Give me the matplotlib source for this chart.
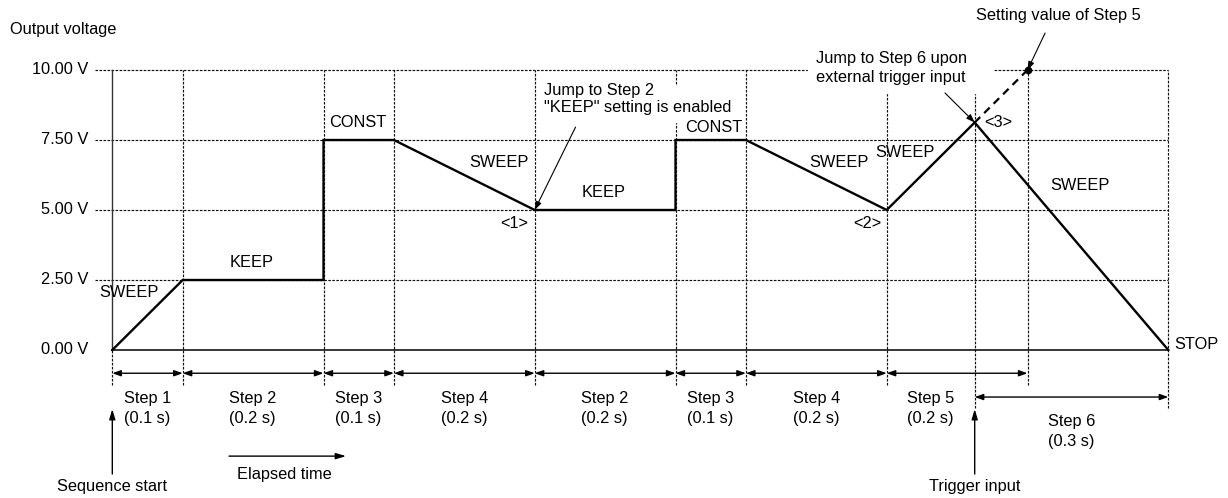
import numpy as np
import matplotlib
matplotlib.use("Agg")
import matplotlib.pyplot as plt
from matplotlib.patches import Rectangle

plt.rcParams['font.family'] = ['Liberation Sans', 'DejaVu Sans']
FS = 11.8

# output voltage profile (time in s, voltage in V)
prof_t = [0, 0.1, 0.3, 0.3, 0.4, 0.6, 0.8, 0.8, 0.9, 1.1, 1.225, 1.5]
prof_v = [0, 2.5, 2.5, 7.5, 7.5, 5.0, 5.0, 7.5, 7.5, 5.0, 8.125, 0]
# step 5 setting that was not reached
skip_t = [1.225, 1.3]
skip_v = [8.125, 10.0]

volt_ticks = [0, 2.5, 5.0, 7.5, 10.0]
volt_labels = ["0.00 V", "2.50 V", "5.00 V", "7.50 V", "10.00 V"]

bounds = [0, 0.1, 0.3, 0.4, 0.6, 0.8, 0.9, 1.1, 1.225, 1.3, 1.5]
step_edges = [0, 0.1, 0.3, 0.4, 0.6, 0.8, 0.9, 1.1, 1.3]
step_names = ["Step 1", "Step 2", "Step 3", "Step 4", "Step 2", "Step 3", "Step 4", "Step 5"]
step_times = ["(0.1 s)", "(0.2 s)", "(0.1 s)", "(0.2 s)", "(0.2 s)", "(0.1 s)", "(0.2 s)", "(0.2 s)"]
trig_t = 1.225
end_t = 1.5

# mode labels: (text, t, v)
modes = [("SWEEP", 0.024, 2.04), ("KEEP", 0.198, 3.11), ("CONST", 0.349, 8.11),
         ("SWEEP", 0.549, 6.68), ("KEEP", 0.698, 5.64), ("CONST", 0.855, 7.96),
         ("SWEEP", 1.032, 6.68), ("SWEEP", 1.126, 7.07), ("SWEEP", 1.375, 5.86),
         ("<1>", 0.571, 4.5), ("<2>", 1.072, 4.5), ("<3>", 1.258, 8.11)]

W, H, DPI = 1228, 498, 100
X0, PXS, Y0, PXV = 112.3, 704.0, 350.0, 28.0

fig = plt.figure(figsize=(W / DPI, H / DPI), dpi=DPI)
ax = fig.add_axes([0, 0, 1, 1])
ax.set_xlim(-X0 / PXS, (W - X0) / PXS)
ax.set_ylim((Y0 - H) / PXV, Y0 / PXV)
ax.axis("off")

grid = dict(color="#111111", lw=0.85, ls=(0, (2.2, 1.2)), zorder=1)

# horizontal grid
for v in volt_ticks[1:]:
    ax.plot([-0.0245, end_t], [v, v], **grid)
for v, lab in zip(volt_ticks, volt_labels):
    ax.text(-0.0345, v, lab, ha="right", va="center", fontsize=FS)

# vertical grid
for t in bounds[1:]:
    low = -1.25
    if t in (trig_t, end_t):
        low = -2.06
    ax.plot([t, t], [low, 10], **grid)
ax.plot([0, 0], [-1.25, 0], **grid)

# axes lines
ax.plot([0, 0], [0, 10], color="#333333", lw=1, zorder=2)
ax.plot([0, end_t], [0, 0], color="black", lw=1.1, zorder=2)

# white masks behind annotations
ax.add_patch(Rectangle((0.6075, 8.14), 0.2785, 1.29, color="white", zorder=3))
ax.add_patch(Rectangle((0.988, 9.18), 0.263, 1.75, color="white", zorder=3))

# profile
ax.plot(prof_t, prof_v, color="black", lw=1.7, zorder=5, solid_joinstyle="miter")
ax.plot(skip_t, skip_v, color="black", lw=1.6, ls=(0, (3.5, 2.5)), zorder=5)
ax.plot(skip_t[-1], skip_v[-1], "o", color="black", ms=4.5, zorder=6)

for txt, t, v in modes:
    ax.text(t, v, txt, ha="center", va="center", fontsize=FS, zorder=7)
ax.text(1.508, 0.18, "STOP", ha="left", va="center", fontsize=FS)

ax.text(-0.1453, 11.46, "Output voltage", ha="left", va="center", fontsize=FS)

small = dict(arrowstyle="-|>,head_length=0.5,head_width=0.18", color="black",
             lw=0.8, shrinkA=0, shrinkB=0)
ax.text(0.613, 8.96, "Jump to Step 2\n\"KEEP\" setting is enabled", ha="left",
        va="center", fontsize=FS, linespacing=1.2, zorder=7)
ax.annotate("", xy=(0.6, 5.0), xytext=(0.658, 7.96), arrowprops=small, zorder=7)
ax.text(0.9996, 10.07, "Jump to Step 6 upon\nexternal trigger input", ha="left",
        va="center", fontsize=FS, linespacing=1.32, zorder=7)
ax.annotate("", xy=(trig_t, 8.125), xytext=(1.1828, 9.18), arrowprops=small, zorder=7)
ax.text(1.3433, 11.93, "Setting value of Step 5", ha="center", va="center", fontsize=FS)
ax.annotate("", xy=(1.3, 10.0), xytext=(1.325, 11.32), arrowprops=small, zorder=7)

# step dimension arrows
dim = dict(arrowstyle="<|-|>,head_length=0.5,head_width=0.18", color="black",
           lw=1, shrinkA=0, shrinkB=0)
for a, b in zip(step_edges[:-1], step_edges[1:]):
    ax.annotate("", xy=(b, -0.83), xytext=(a, -0.83), arrowprops=dim)
for i, (name, dur) in enumerate(zip(step_names, step_times)):
    a, b = step_edges[i], step_edges[i + 1]
    if name == "Step 5":
        b = trig_t
    ax.text((a + b) / 2, -2.09, name + "\n" + dur, ha="center", va="center",
            multialignment="left", fontsize=FS, linespacing=1.35)
ax.annotate("", xy=(end_t, -1.68), xytext=(trig_t, -1.68), arrowprops=dim)
ax.text((trig_t + end_t) / 2, -2.91, "Step 6\n(0.3 s)", ha="center", va="center",
        multialignment="left", fontsize=FS, linespacing=1.35)

# bottom arrows
up = dict(arrowstyle="-|>,head_length=0.6,head_width=0.18", color="black",
          lw=1, shrinkA=0, shrinkB=0)
ax.annotate("", xy=(0, -2.11), xytext=(0, -4.43), arrowprops=up)
ax.text(0, -4.86, "Sequence start", ha="center", va="center", fontsize=FS)
ax.annotate("", xy=(trig_t, -2.11), xytext=(trig_t, -4.43), arrowprops=up)
ax.text(trig_t, -4.86, "Trigger input", ha="center", va="center", fontsize=FS)
ax.annotate("", xy=(0.332, -3.79), xytext=(0.1658, -3.79), arrowprops=up)
ax.text(0.2439, -4.46, "Elapsed time", ha="center", va="center", fontsize=FS)

fig.savefig("out.png", dpi=DPI)
